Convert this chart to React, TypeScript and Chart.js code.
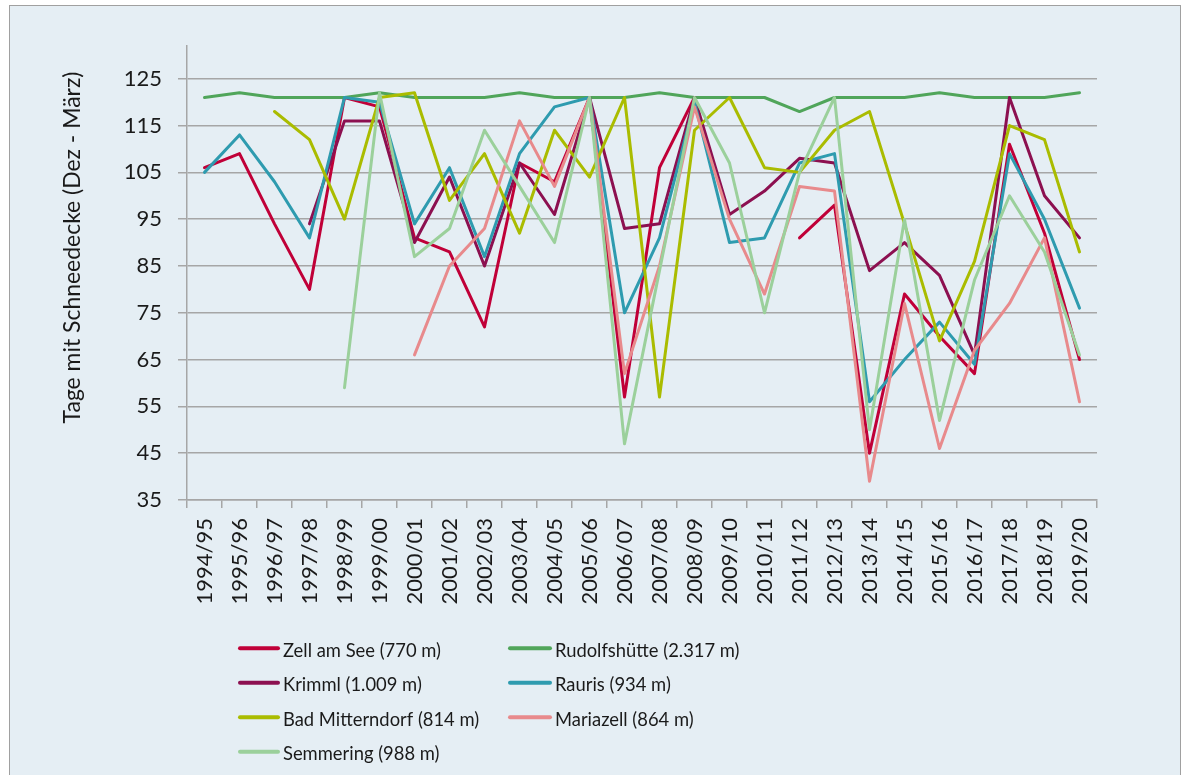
import React, { useEffect, useRef } from "react";
import { Chart, registerables } from "chart.js";

Chart.register(...registerables);

const categories = [
  "1994/95", "1995/96", "1996/97", "1997/98", "1998/99", "1999/00", "2000/01",
  "2001/02", "2002/03", "2003/04", "2004/05", "2005/06", "2006/07", "2007/08",
  "2008/09", "2009/10", "2010/11", "2011/12", "2012/13", "2013/14", "2014/15",
  "2015/16", "2016/17", "2017/18", "2018/19", "2019/20",
];

const zellAmSee = [106, 109, 94, 80, 121, 119, 91, 88, 72, 107, 103, 121, 57, 106, 121, null, null, 91, 98, 45, 79, 70, 62, 111, 92, 65];
const rudolfshuette = [121, 122, 121, 121, 121, 122, 121, 121, 121, 122, 121, 121, 121, 122, 121, 121, 121, 118, 121, 121, 121, 122, 121, 121, 121, 122];
const krimml = [null, null, null, 94, 116, 116, 90, 104, 85, 107, 96, 121, 93, 94, 121, 96, 101, 108, 107, 84, 90, 83, 66, 121, 100, 91];
const rauris = [105, 113, 103, 91, 121, 120, 94, 106, 87, 109, 119, 121, 75, 91, 120, 90, 91, 107, 109, 56, 65, 73, 64, 109, 95, 76];
const badMitterndorf = [null, null, 118, 112, 95, 121, 122, 99, 109, 92, 114, 104, 121, 57, 114, 121, 106, 105, 114, 118, 94, 69, 86, 115, 112, 88];
const mariazell = [null, null, null, null, null, null, 66, 85, 93, 116, 102, 121, 62, 85, 119, 95, 79, 102, 101, 39, 77, 46, 67, 77, 91, 56];
const semmering = [null, null, null, null, 59, 122, 87, 93, 114, 102, 90, 121, 47, 84, 121, 107, 75, 105, 121, 50, 95, 52, 82, 100, 88, 66];

const seriesNames = [
  "Zell am See (770 m)",
  "Rudolfshütte (2.317 m)",
  "Krimml (1.009 m)",
  "Rauris (934 m)",
  "Bad Mitterndorf (814 m)",
  "Mariazell (864 m)",
  "Semmering (988 m)",
];
const seriesValues = [zellAmSee, rudolfshuette, krimml, rauris, badMitterndorf, mariazell, semmering];
const seriesColors = ["#C00038", "#50A55A", "#8C1050", "#2E9BAF", "#AABC00", "#E88A8C", "#9BD09B"];

const yTickValues = [35, 45, 55, 65, 75, 85, 95, 105, 115, 125];
const yMin = 35;
const yMax = 132;
const yAxisTitle = "Tage mit Schneedecke (Dez - März)";

const FONT = "Lato";
const TEXT_COLOR = "#1a1a1a";
const GRID_COLOR = "#A6A6A6";

function fitFont(ctx: CanvasRenderingContext2D, text: string, target: number) {
  ctx.font = `20px ${FONT}`;
  const w = ctx.measureText(text).width;
  return (20 * target) / w;
}

const yTitlePlugin = {
  id: "yTitle",
  afterDraw(chart: any) {
    const ctx: CanvasRenderingContext2D = chart.ctx;
    ctx.save();
    const size = fitFont(ctx, yAxisTitle, 352);
    ctx.font = `${size}px ${FONT}`;
    ctx.fillStyle = TEXT_COLOR;
    ctx.translate(70, 241.5);
    ctx.rotate(-Math.PI / 2);
    ctx.textAlign = "center";
    ctx.textBaseline = "alphabetic";
    ctx.fillText(yAxisTitle, 0, 0);
    ctx.restore();
  },
};

const legendPlugin = {
  id: "gridLegend",
  afterDraw(chart: any) {
    const ctx: CanvasRenderingContext2D = chart.ctx;
    ctx.save();
    const size = fitFont(ctx, seriesNames[0], 158);
    ctx.font = `${size}px ${FONT}`;
    chart.data.datasets.forEach((ds: any, i: number) => {
      const col = i % 2;
      const row = Math.floor(i / 2);
      const lx = col === 0 ? 230 : 500;
      const lw = col === 0 ? 38 : 40;
      const tx = col === 0 ? 273 : 545;
      const y = 642.3 + row * 34.5;
      ctx.strokeStyle = ds.borderColor;
      ctx.lineWidth = 4;
      ctx.lineCap = "round";
      ctx.beginPath();
      ctx.moveTo(lx, y);
      ctx.lineTo(lx + lw, y);
      ctx.stroke();
      ctx.fillStyle = TEXT_COLOR;
      ctx.textAlign = "left";
      ctx.textBaseline = "alphabetic";
      ctx.fillText(ds.label, tx, y + 8.4);
    });
    ctx.restore();
  },
};

export default function App() {
  const ref = useRef<HTMLCanvasElement>(null);

  useEffect(() => {
    const canvas = ref.current;
    if (!canvas) return;
    const datasets = seriesNames.map((name, i) => ({
      label: name,
      data: seriesValues[i],
      borderColor: seriesColors[i],
      backgroundColor: seriesColors[i],
      borderWidth: 3,
      pointRadius: 0,
      pointHoverRadius: 0,
      tension: 0,
      spanGaps: false,
      borderJoinStyle: "round" as const,
      borderCapStyle: "round" as const,
      fill: false,
      order: seriesNames.length - i,
    }));

    const chart = new Chart(canvas, {
      type: "line",
      data: { labels: categories, datasets },
      options: {
        responsive: false,
        animation: false,
        devicePixelRatio: 1,
        layout: { padding: { left: 0, top: 40, right: 83, bottom: 0 } },
        plugins: {
          legend: { display: false },
          tooltip: { enabled: false },
          title: { display: false },
        },
        scales: {
          x: {
            type: "category",
            offset: true,
            grid: {
              offset: true,
              drawOnChartArea: false,
              drawTicks: true,
              tickLength: 8,
              color: GRID_COLOR,
              lineWidth: 1.5,
            },
            border: { display: true, color: GRID_COLOR, width: 1.5 },
            ticks: {
              autoSkip: false,
              maxRotation: 90,
              minRotation: 90,
              padding: 10,
              color: TEXT_COLOR,
              font: { family: FONT, size: 22 },
            },
            afterFit: (scale: any) => {
              scale.height = 286;
            },
          },
          y: {
            type: "linear",
            min: yMin,
            max: yMax,
            afterBuildTicks: (scale: any) => {
              scale.ticks = yTickValues.map((v) => ({ value: v }));
            },
            grid: {
              drawTicks: true,
              tickLength: 9,
              color: GRID_COLOR,
              lineWidth: 1.5,
            },
            border: { display: true, color: GRID_COLOR, width: 1.5 },
            ticks: {
              padding: 16,
              color: TEXT_COLOR,
              font: { family: FONT, size: 22 },
            },
            afterFit: (scale: any) => {
              scale.width = 177;
            },
          },
        },
      },
      plugins: [yTitlePlugin, legendPlugin],
    });
    return () => chart.destroy();
  }, []);

  return (
    <div
      style={{
        position: "fixed",
        left: 9,
        top: 5,
        width: 1170,
        height: 800,
        border: "1px solid #A0A0A0",
        background: "#E5EEF4",
        overflow: "hidden",
      }}
    >
      <canvas ref={ref} width={1170} height={780} style={{ display: "block", width: 1170, height: 780 }} />
    </div>
  );
}
